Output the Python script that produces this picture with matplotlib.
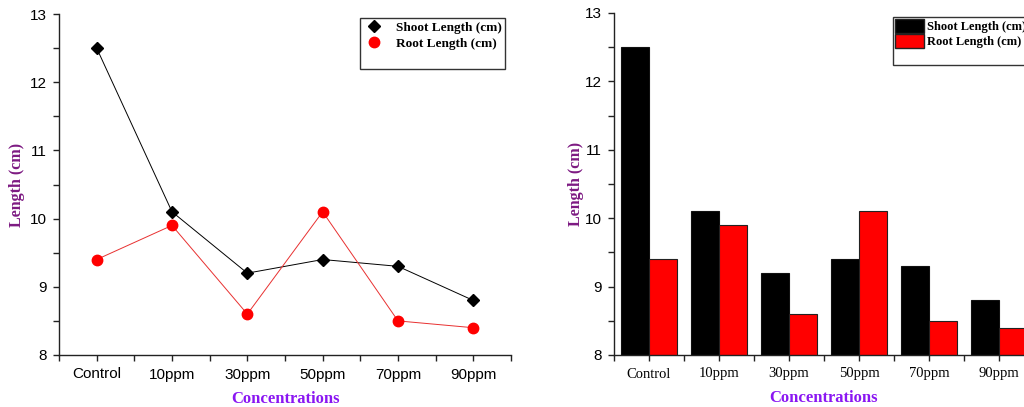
import numpy as np
import matplotlib
matplotlib.use("Agg")
import matplotlib.pyplot as plt
from matplotlib.lines import Line2D
from matplotlib.patches import Patch

# dados
concentracoes = ['Control', '10ppm', '30ppm', '50ppm', '70ppm', '90ppm']
parte_aerea = [12.5, 10.1, 9.2, 9.4, 9.3, 8.8]   # Shoot Length (cm)
raiz = [9.4, 9.9, 8.6, 10.1, 8.5, 8.4]           # Root Length (cm)

SERIF = 'Liberation Serif'
SANS = 'Liberation Sans'
ROXO = '#7d1a82'
VIOLETA = '#8a16f2'

fig = plt.figure(figsize=(10.24, 4.07), dpi=100)
x = np.arange(len(concentracoes))


def estilo_eixos(ax, fonte_x, pad_y):
    ax.spines['top'].set_visible(False)
    ax.spines['right'].set_visible(False)
    for s in ('left', 'bottom'):
        ax.spines[s].set_linewidth(1.0)
        ax.spines[s].set_color('#222222')
    ax.set_ylim(8, 13)
    ax.set_xlim(-0.5, len(concentracoes) - 0.5)
    ax.set_yticks([8, 9, 10, 11, 12, 13])
    ax.set_yticks(np.arange(8.5, 13, 1.0), minor=True)
    ax.set_xticks(x)
    ax.set_xticks(np.arange(-0.5, len(concentracoes), 1.0), minor=True)
    ax.set_xticklabels(concentracoes, family=fonte_x,
                       fontsize=11 if fonte_x == SANS else 10.5)
    for lab in ax.get_yticklabels():
        lab.set_family(SANS)
        lab.set_fontsize(11)
    ax.tick_params(direction='out', length=4, width=1, color='#222222', pad=5)
    ax.tick_params(which='minor', direction='out', length=4, width=1, color='#222222')
    ax.set_xlabel('Concentrations', family=SERIF, fontweight='bold', fontsize=12,
                  color=VIOLETA, labelpad=7)
    ax.set_ylabel('Length (cm)', family=SERIF, fontweight='bold', fontsize=11.5,
                  color=ROXO, labelpad=pad_y)


# Gráfico 1: linhas
ax1 = fig.add_axes([59 / 1024, 52 / 407, 452 / 1024, 341 / 407])
ax1.plot(x, parte_aerea, color='black', lw=0.7, marker='D', ms=6.5, mfc='black', mec='black')
ax1.plot(x, raiz, color='#e83030', lw=0.7, marker='o', ms=7.5, mfc='#ff0000', mec='#ff0000')
estilo_eixos(ax1, SANS, 3)

h1 = [Line2D([], [], color='black', marker='D', ls='none', ms=6.5),
      Line2D([], [], color='#ff0000', marker='o', ls='none', ms=7.5),
      Line2D([], [], ls='none')]
fig.legend(h1, ['Shoot Length (cm)', 'Root Length (cm)', ' '],
           loc='upper left', bbox_to_anchor=(360 / 1024, 1 - 18 / 407),
           prop={'family': SERIF, 'weight': 'bold', 'size': 9.5},
           frameon=True, fancybox=False, edgecolor='#333333', framealpha=1,
           handlelength=1.6, handletextpad=0.9, borderpad=0.25,
           borderaxespad=0, labelspacing=0.3)

# Gráfico 2: barras
ax2 = fig.add_axes([614 / 1024, 52 / 407, 420 / 1024, 342 / 407])
larg = 0.4
ax2.bar(x - larg / 2, parte_aerea, width=larg, bottom=0, color='black',
        edgecolor='#111111', lw=0.8)
ax2.bar(x + larg / 2, raiz, width=larg, bottom=0, color='#ff0000',
        edgecolor='#222222', lw=0.8)
estilo_eixos(ax2, SERIF, 0)

h2 = [Patch(facecolor='black', edgecolor='#222222'),
      Patch(facecolor='#ff0000', edgecolor='#222222'),
      Patch(facecolor='none', edgecolor='none')]
fig.legend(h2, ['Shoot Length (cm)', 'Root Length (cm)', ' '],
           loc='upper left', bbox_to_anchor=(893 / 1024, 1 - 17 / 407),
           prop={'family': SERIF, 'weight': 'bold', 'size': 9},
           frameon=True, fancybox=False, edgecolor='#333333', framealpha=1,
           handlelength=2.3, handleheight=1.4, handletextpad=0.3,
           borderpad=0.15, borderaxespad=0, labelspacing=0.05)

fig.savefig('out.png', dpi=100)
